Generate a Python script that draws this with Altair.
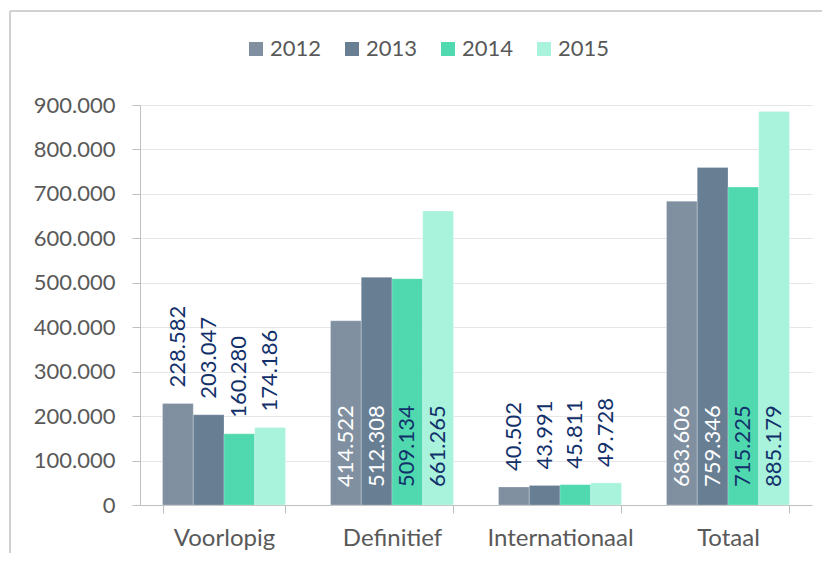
import altair as alt
import pandas as pd

categories = ["Voorlopig", "Definitief", "Internationaal", "Totaal"]
years = ["2012", "2013", "2014", "2015"]
values_2012 = [228582, 414522, 40502, 683606]
values_2013 = [203047, 512308, 43991, 759346]
values_2014 = [160280, 509134, 45811, 715225]
values_2015 = [174186, 661265, 49728, 885179]
y_ticks = [0, 100000, 200000, 300000, 400000, 500000, 600000, 700000, 800000, 900000]

bar_colors = ["#8090A1", "#687E93", "#50D9AE", "#A9F2DC"]
navy = "#12306A"
inside_label_colors = ["#FFFFFF", "#FFFFFF", navy, navy]
inside_cats = ["Definitief", "Totaal"]

rows = []
series = [values_2012, values_2013, values_2014, values_2015]
for yi, (yr, vals) in enumerate(zip(years, series)):
    for ci, cat in enumerate(categories):
        v = vals[ci]
        inside = cat in inside_cats
        rows.append({
            "cat": cat,
            "year": yr,
            "value": v,
            "base": 0,
            "label": f"{v:,}".replace(",", "."),
            "inside": inside,
            "lblcolor": inside_label_colors[yi] if inside else navy,
        })
df = pd.DataFrame(rows)

FONT = "Lato"
GRAY_TXT = "#595959"
AXIS_GRAY = "#BFBFBF"

x_enc = alt.X(
    "cat:N",
    sort=categories,
    scale=alt.Scale(paddingInner=0.268, paddingOuter=0.134),
    axis=alt.Axis(
        title=None,
        labelAngle=0,
        tickBand="extent",
        tickSize=8,
        tickColor=AXIS_GRAY,
        domainColor=AXIS_GRAY,
        labelFontSize=24,
        labelFontWeight="normal",
        labelColor=GRAY_TXT,
        labelFont=FONT,
        labelPadding=13,
        grid=False,
    ),
)
xoff = alt.XOffset("year:N", sort=years, scale=alt.Scale(paddingInner=0, paddingOuter=0))
y_scale = alt.Scale(domain=[0, 900000], nice=False)

base = alt.Chart(df)

bars = base.mark_bar(stroke="#FFFFFF", strokeWidth=0.4, strokeOpacity=0.6).encode(
    x=x_enc,
    xOffset=xoff,
    y=alt.Y(
        "value:Q",
        scale=y_scale,
        axis=alt.Axis(
            title=None,
            values=y_ticks,
            labelExpr="replace(format(datum.value, ',.0f'), ',', '.')",
            tickSize=8,
            tickColor=AXIS_GRAY,
            domainColor=AXIS_GRAY,
            gridColor="#E6E6E6",
            labelFontSize=22,
            labelColor=GRAY_TXT,
            labelFont=FONT,
            labelPadding=17,
        ),
    ),
    color=alt.Color(
        "year:N",
        sort=years,
        scale=alt.Scale(domain=years, range=bar_colors),
        legend=alt.Legend(
            title=None,
            orient="none",
            direction="horizontal",
            legendX=105,
            legendY=-67,
            symbolType="square",
            symbolSize=196,
            symbolStrokeWidth=0,
            labelFontSize=22,
            labelFont=FONT,
            labelColor=GRAY_TXT,
            labelOffset=3,
            columnPadding=19,
            padding=0,
        ),
    ),
)

outside_labels = base.transform_filter("!datum.inside").mark_text(
    angle=270, align="left", baseline="middle", dx=16, fontSize=22, font=FONT
).encode(
    x=alt.X("cat:N", sort=categories),
    xOffset=xoff,
    y=alt.Y("value:Q", scale=y_scale),
    text="label:N",
    color=alt.Color("lblcolor:N", scale=None),
)

inside_labels = base.transform_filter("datum.inside").mark_text(
    angle=270, align="left", baseline="middle", dx=18, fontSize=22, font=FONT
).encode(
    x=alt.X("cat:N", sort=categories),
    xOffset=xoff,
    y=alt.Y("base:Q", scale=y_scale),
    text="label:N",
    color=alt.Color("lblcolor:N", scale=None),
)

frame_left = alt.Chart(df).mark_rule(color="#D0D0D0", strokeWidth=1).encode(
    x=alt.value(-130), y=alt.value(-94), y2=alt.value(460)
)
frame_top = alt.Chart(df).mark_rule(color="#D0D0D0", strokeWidth=1).encode(
    x=alt.value(-130), x2=alt.value(690), y=alt.value(-94)
)

chart = alt.layer(bars, outside_labels, inside_labels, frame_left, frame_top).properties(
    width=672,
    height=400,
    autosize=alt.AutoSizeParams(type="none"),
    padding={"left": 132, "top": 97, "right": 10, "bottom": 48},
    background="#FFFFFF",
).configure_view(stroke=None)

chart.save("out.html", embed_options={"renderer": "svg", "actions": False})
